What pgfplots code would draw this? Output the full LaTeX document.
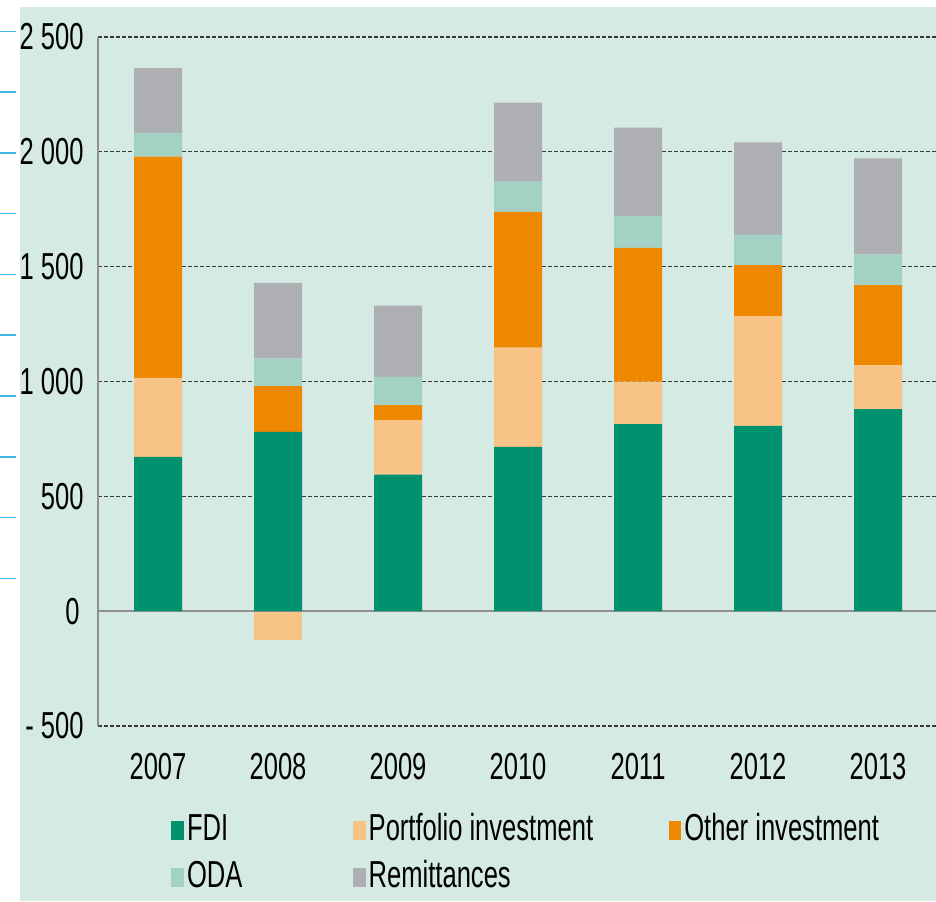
\documentclass[border=0pt]{standalone}
\usepackage{fontspec}
\setmainfont{Liberation Sans}[FakeStretch=0.68]
\usepackage{pgfplots}
\usepackage{pgfplotstable}
\pgfplotsset{compat=1.18}
\definecolor{cFDI}{HTML}{00916E}
\definecolor{cPI}{HTML}{F8C386}
\definecolor{cOI}{HTML}{EE8800}
\definecolor{cODA}{HTML}{A3D2C4}
\definecolor{cRem}{HTML}{AEAFB3}
\definecolor{cBG}{HTML}{D5EAE3}
\definecolor{cGrid}{HTML}{3A3A3A}
\definecolor{cAxis}{HTML}{8F8F8F}
\definecolor{cBlue}{HTML}{3FB8E8}
\pgfplotstableread{
x FDI PI OI ODA Rem
0 672 344 963 104 281
1 781 0 199 121 328
2 595 237 65 123 310
3 715 432 592 131 344
4 814 185 583 138 385
5 807 478 222 131 403
6 880 191 349 134 418
}\flows
\newcommand{\bigfont}{\fontsize{18.8}{22}\selectfont}
\begin{document}
\begin{tikzpicture}
\useasboundingbox (0,0) rectangle (468pt,450.5pt);
\fill[white] (0,0) rectangle (468pt,450.5pt);
\fill[cBG] (10pt,0) rectangle (468pt,447pt);
\foreach \yy in {31.5,92,153,213.5,274.5,335,396,456.7,517.3,578.3}
  \draw[cBlue, line width=0.8pt] (0,{(901-\yy)*0.5pt}) -- (8pt,{(901-\yy)*0.5pt});
% negative portfolio bar (2008)
\begin{axis}[at={(49pt,87.5pt)}, anchor=south west, scale only axis,
  width=419pt, height=344.5pt, xmin=-0.5, xmax=6.483, ymin=-500, ymax=2500,
  hide axis, ybar, bar width=0.4]
\addplot[fill=cPI, draw=none] coordinates {(1,-126)};
\end{axis}
\begin{axis}[at={(49pt,87.5pt)}, anchor=south west, scale only axis,
  width=419pt, height=344.5pt, xmin=-0.5, xmax=6.483, ymin=-500, ymax=2500,
  ybar stacked, bar width=0.4,
  axis y line*=left, axis x line*=bottom,
  y axis line style={draw=cAxis, line width=0.65pt, -},
  x axis line style={draw=none},
  major tick length=0pt,
  xtick={0,...,6}, xticklabels={2007,2008,2009,2010,2011,2012,2013},
  ytick={-500,500,1000,1500,2000,2500},
  yticklabels={- 500,500,1 000,1 500,2 000,2 500},
  extra y ticks={0}, extra y tick labels={0},
  extra y tick style={grid=major, major grid style={solid, draw=cAxis, line width=1pt},
    yticklabel style={xshift=-2pt}},
  ymajorgrids,
  major grid style={draw=cGrid, line width=0.6pt, dash pattern=on 2pt off 1pt},
  yticklabel style={anchor=east, inner sep=0pt, xshift=-7pt, font=\bigfont},
  xticklabel style={anchor=north, inner sep=0pt, yshift=-13.5pt, font=\bigfont},
  /pgf/number format/assume math mode=true,
  legend image code/.code={\fill[#1,draw=none] (0pt,-6.7pt) rectangle (6.3pt,2.6pt);},
  legend columns=3,
  legend cell align=left,
  legend style={at={(0.0877,-0.1258)}, anchor=north west, draw=none, fill=none,
    inner sep=0pt, outer sep=0pt, row sep=9.5pt,
    nodes={inner sep=0pt, text height=14pt, text depth=0pt, font=\bigfont},
    /tikz/every odd column/.append style={column sep=1.5pt}},
]
\addplot[fill=cFDI, draw=none] table[x=x, y=FDI] {\flows};
\addlegendentry{\makebox[83pt][l]{FDI}}
\addplot[fill=cPI, draw=none] table[x=x, y=PI] {\flows};
\addlegendentry{\makebox[150pt][l]{Portfolio investment}}
\addplot[fill=cOI, draw=none] table[x=x, y=OI] {\flows};
\addlegendentry{Other investment}
\addplot[fill=cODA, draw=none] table[x=x, y=ODA] {\flows};
\addlegendentry{ODA}
\addplot[fill=cRem, draw=none] table[x=x, y=Rem] {\flows};
\addlegendentry{Remittances}
\end{axis}
\end{tikzpicture}
\end{document}
